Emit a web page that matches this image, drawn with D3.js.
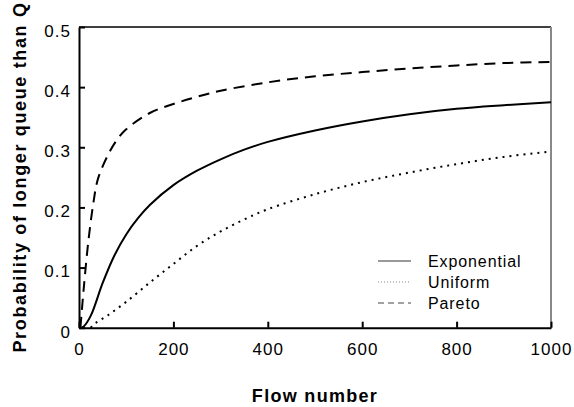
<!DOCTYPE html>
<html>
<head>
<meta charset="utf-8">
<script src="https://cdn.jsdelivr.net/npm/d3@7"></script>
<style>
  body { margin: 0; background: #fff; }
  text { font-family: "Liberation Sans", Arial, sans-serif; fill: #000; }
</style>
</head>
<body>
<script>
// values
const expFlow  = [5, 10, 25, 50, 75, 100, 125, 150, 200, 250, 300, 350, 400, 500, 600, 700, 800, 900, 1000];
const expProb  = [0, 0.002, 0.02, 0.074, 0.12, 0.155, 0.182, 0.204, 0.237, 0.261, 0.28, 0.296, 0.309, 0.328, 0.343, 0.355, 0.364, 0.37, 0.375];

const uniFlow  = [25, 30, 60, 100, 150, 200, 250, 300, 350, 400, 500, 600, 700, 800, 900, 1000];
const uniProb  = [0, 0.005, 0.02, 0.043, 0.075, 0.106, 0.136, 0.16, 0.18, 0.197, 0.222, 0.242, 0.258, 0.272, 0.284, 0.293];

const parFlow  = [3, 10, 20, 30, 40, 60, 80, 100, 150, 200, 250, 300, 400, 500, 600, 700, 800, 900, 1000];
const parProb  = [0, 0.065, 0.145, 0.205, 0.247, 0.285, 0.312, 0.33, 0.357, 0.372, 0.384, 0.394, 0.408, 0.418, 0.425, 0.431, 0.436, 0.44, 0.442];

const seriesNames = ["Exponential", "Uniform", "Pareto"];
const xTicks = [0, 200, 400, 600, 800, 1000];
const yTicks = [0, 0.1, 0.2, 0.3, 0.4, 0.5];

const W = 574, H = 407;
const plotL = 79, plotR = 551, plotT = 27, plotB = 327.7;

const svg = d3.select("body").append("svg")
    .attr("width", W)
    .attr("height", H);

const x = d3.scaleLinear().domain([0, 1000]).range([plotL, plotR]);
const y = d3.scaleLinear().domain([0, 0.5]).range([plotB, plotT]);

// frame: top and right
svg.append("line")
    .attr("x1", plotL).attr("x2", plotR).attr("y1", plotT).attr("y2", plotT)
    .attr("stroke", "#000").attr("stroke-width", 1.5);
svg.append("line")
    .attr("x1", plotR).attr("x2", plotR).attr("y1", plotT).attr("y2", plotB)
    .attr("stroke", "#888").attr("stroke-width", 2);

const xAxis = svg.append("g")
    .attr("transform", `translate(0,${plotB})`)
    .call(d3.axisBottom(x).tickValues(xTicks).tickSize(-6).tickSizeOuter(0).tickPadding(15).tickFormat(d3.format("d")));

const yAxis = svg.append("g")
    .attr("transform", `translate(${plotL},0)`)
    .call(d3.axisLeft(y).tickValues(yTicks).tickSize(-6).tickSizeOuter(0).tickPadding(8)
        .tickFormat(d => d === 0 ? "0" : d3.format(".1f")(d)));

[xAxis, yAxis].forEach(g => {
    g.select(".domain").attr("stroke", "#000").attr("stroke-width", 2);
    g.selectAll(".tick line").attr("stroke", "#000").attr("stroke-width", 2);
    g.selectAll(".tick text")
        .style("font-family", "'Liberation Sans', Arial, sans-serif")
        .style("font-size", "17px")
        .style("letter-spacing", "1px")
        .attr("fill", "#000");
});
yAxis.selectAll(".tick text").attr("dy", "0.55em");

// axis titles
svg.append("text")
    .attr("x", (plotL + plotR) / 2)
    .attr("y", 402)
    .attr("text-anchor", "middle")
    .style("font-size", "18px")
    .style("font-weight", "bold")
    .style("letter-spacing", "1.3px")
    .text("Flow number");

svg.append("text")
    .attr("transform", "translate(26,177) rotate(-90)")
    .attr("text-anchor", "middle")
    .style("font-size", "18px")
    .style("font-weight", "bold")
    .style("letter-spacing", "1.65px")
    .text("Probability of longer queue than Q");

// curves
const line = d3.line()
    .x(d => x(d[0]))
    .y(d => y(d[1]))
    .curve(d3.curveCatmullRom.alpha(0.5));

const series = [
    { name: seriesNames[0], pts: d3.zip(expFlow, expProb), dash: null, lw: 2 },
    { name: seriesNames[1], pts: d3.zip(uniFlow, uniProb), dash: "2,5", lw: 2 },
    { name: seriesNames[2], pts: d3.zip(parFlow, parProb), dash: "11,7", lw: 2 }
];

svg.selectAll("path.curve")
    .data(series)
    .enter()
    .append("path")
    .attr("class", "curve")
    .attr("d", d => line(d.pts))
    .attr("fill", "none")
    .attr("stroke", "#000")
    .attr("stroke-width", d => d.lw)
    .attr("stroke-dasharray", d => d.dash);

// legend
const legendDash = [null, "1,2", "6,4"];
const legendColor = ["#333", "#888", "#444"];
const lg = svg.selectAll("g.legend")
    .data(seriesNames)
    .enter()
    .append("g")
    .attr("class", "legend")
    .attr("transform", (d, i) => `translate(378,${261 + i * 21})`);

lg.append("line")
    .attr("x1", 0).attr("x2", 33)
    .attr("stroke", (d, i) => legendColor[i])
    .attr("stroke-width", 1)
    .attr("stroke-dasharray", (d, i) => legendDash[i]);

lg.append("text")
    .attr("x", 50)
    .attr("dy", "0.36em")
    .style("font-size", "16px")
    .style("letter-spacing", "0.9px")
    .text(d => d);
</script>
</body>
</html>
